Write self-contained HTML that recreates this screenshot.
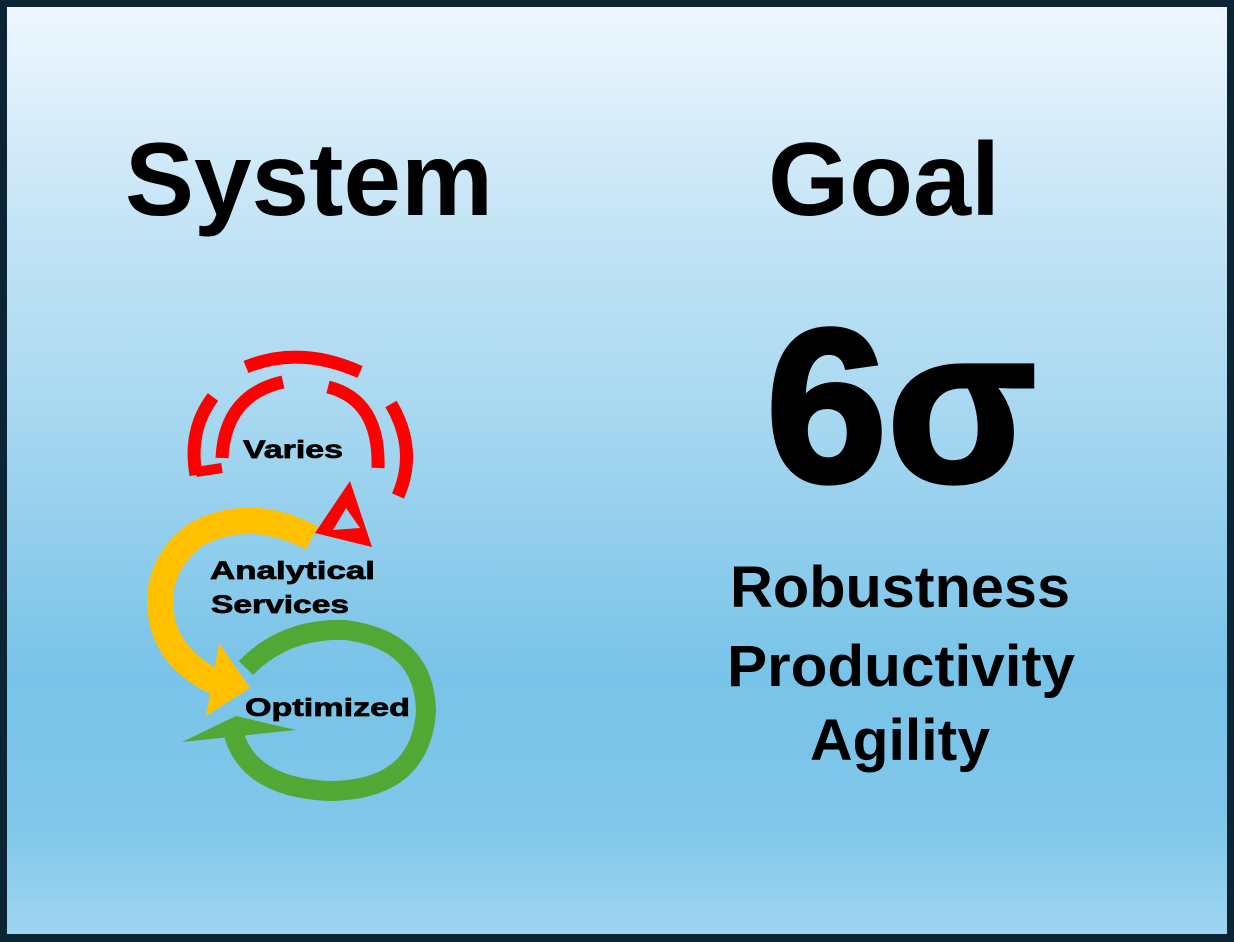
<!DOCTYPE html>
<html><head><meta charset="utf-8"><style>
html,body{margin:0;padding:0;}
body{width:1234px;height:942px;overflow:hidden;background:#0b2535;}
.panel{position:absolute;left:7px;top:7px;width:1220px;height:927px;
background:linear-gradient(to bottom,#eef7fe 0%,#c6e5f6 22%,#a6d7f0 45%,#78c3e8 72%,#80c7ea 88%,#9ed5f0 100%);}
svg{position:absolute;left:0;top:0;}
</style></head><body>
<div class="panel"></div>
<svg width="1234" height="942" viewBox="0 0 1234 942" font-family="Liberation Sans, sans-serif" font-weight="bold">
<text x="125" y="215" font-size="104" textLength="368" lengthAdjust="spacingAndGlyphs">System</text>
<text x="768" y="215" font-size="104" textLength="232" lengthAdjust="spacingAndGlyphs">Goal</text>
<text x="766" y="481" font-size="218" stroke="#000" stroke-width="5" textLength="270" lengthAdjust="spacingAndGlyphs">6σ</text>
<text x="900" y="607" font-size="58" text-anchor="middle" textLength="340" lengthAdjust="spacingAndGlyphs">Robustness</text>
<text x="901" y="686" font-size="58" text-anchor="middle" textLength="348" lengthAdjust="spacingAndGlyphs">Productivity</text>
<text x="900" y="760" font-size="58" text-anchor="middle" textLength="180" lengthAdjust="spacingAndGlyphs">Agility</text>

<g fill="none" stroke="#ff0000" stroke-width="13">
<path d="M246 367 Q300 345 360 372"/>
<path d="M213 397 Q188 430 196 475"/>
<path d="M391 404 Q418 450 398 496"/>
<path d="M283 382 Q225 395 222 458"/>
<path d="M328 387 Q380 400 378 468"/>
</g>
<path d="M350 481 L315 533 L372 547 Z M346 508 L333 530 L360 528 Z" fill="#ff0000" fill-rule="evenodd"/>
<line x1="196" y1="472" x2="222" y2="468" stroke="#ff0000" stroke-width="10"/>

<path d="M312 538 Q250 505 195 535 Q150 570 163 625 Q175 665 222 685" fill="none" stroke="#ffc000" stroke-width="26"/>
<polygon points="219,643 250,688 206,716" fill="#ffc000"/>

<path d="M246 668 Q285 628 345 630 Q425 640 426 712 Q420 790 330 791 Q250 788 234 735" fill="none" stroke="#52a834" stroke-width="20"/>
<polygon points="182,742 296,730 236,716" fill="#52a834"/>

<g fill="#000" stroke="#000" stroke-width="0.7" font-size="25">
<text x="243" y="458" textLength="100" lengthAdjust="spacingAndGlyphs">Varies</text>
<text x="210" y="579" textLength="165" lengthAdjust="spacingAndGlyphs">Analytical</text>
<text x="211" y="613" textLength="138" lengthAdjust="spacingAndGlyphs">Services</text>
<text x="245" y="716" textLength="165" lengthAdjust="spacingAndGlyphs">Optimized</text>
</g>
</svg>
</body></html>
